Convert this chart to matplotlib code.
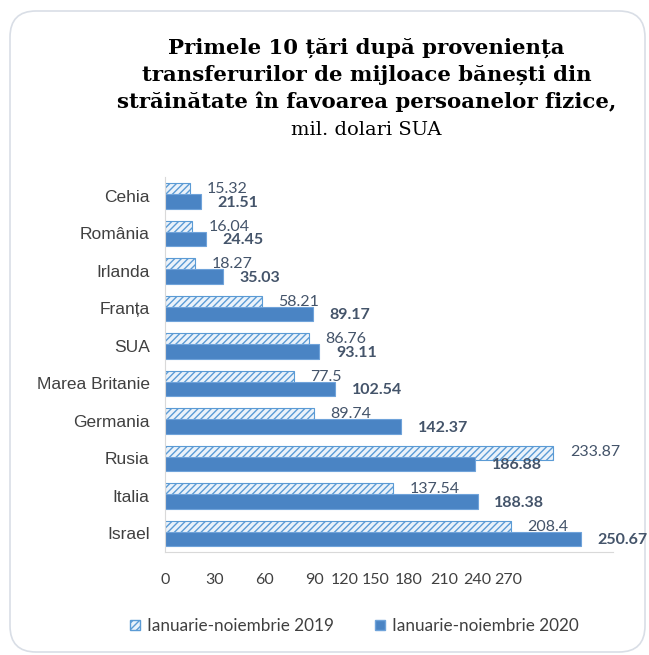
import numpy as np
import matplotlib

matplotlib.use("Agg")
import matplotlib.pyplot as plt
from matplotlib.patches import FancyBboxPatch, Patch

CATEGORIES = ["Cehia", "România", "Irlanda", "Franța", "SUA", "Marea Britanie",
              "Germania", "Rusia", "Italia", "Israel"]
V2019 = [15.32, 16.04, 18.27, 58.21, 86.76, 77.5, 89.74, 233.87, 137.54, 208.4]
V2020 = [21.51, 24.45, 35.03, 89.17, 93.11, 102.54, 142.37, 186.88, 188.38, 250.67]
LABEL_2019 = ["15.32", "16.04", "18.27", "58.21", "86.76", "77.5", "89.74",
              "233.87", "137.54", "208.4"]
LABEL_2020 = ["21.51", "24.45", "35.03", "89.17", "93.11", "102.54", "142.37",
              "186.88", "188.38", "250.67"]
SERIES = ["Ianuarie-noiembrie 2019", "Ianuarie-noiembrie 2020"]
TICK_LABELS = ["0", "30", "60", "90", "120", "150", "180", "210", "240", "270"]
# where the source chart actually drew its tick labels (they drift after 90)
TICK_POS = [0, 30, 60, 90, 108, 127, 147, 168, 188, 207]

TEXT = "#404040"
VAL = "#44546A"
BLUE = "#4A84C4"
LIGHT = "#5B9BD5"

fig = plt.figure(figsize=(6.49, 6.55), dpi=100)

frame = FancyBboxPatch((10 / 649, 3 / 655), 635 / 649, 641 / 655,
                       boxstyle="round,pad=0,rounding_size=0.04",
                       transform=fig.transFigure, facecolor="white",
                       edgecolor="#D9DEE6", linewidth=1.2, zorder=-5)
fig.patches.append(frame)

fig.text(0.565, 1 - 75 / 655,
         "Primele 10 țări după proveniența\n"
         "transferurilor de mijloace bănești din\n"
         "străinătate în favoarea persoanelor fizice,",
         ha="center", va="center", fontsize=15.3, fontweight="bold",
         family="DejaVu Serif", linespacing=1.42, color="black")
fig.text(0.565, 1 - 130 / 655, "mil. dolari SUA", ha="center", va="center",
         fontsize=14, family="DejaVu Serif", color="black")

ax = fig.add_axes([165 / 649, 1 - 552 / 655, 448 / 649, 375 / 655])
y = np.arange(len(CATEGORIES))
h = 0.38
off = 0.15
ax.barh(y - off, V2019, height=h, facecolor="#EAF2FA", edgecolor=LIGHT,
        hatch="/////", linewidth=0.8)
ax.barh(y + off, V2020, height=h, facecolor=BLUE, edgecolor="#6FA3DA",
        linewidth=0.8)

for yi, v, s in zip(y, V2019, LABEL_2019):
    ax.annotate(s, (v, yi - off - 0.02), xytext=(12, 0), textcoords="offset points",
                ha="left", va="center", fontsize=11.5, family="Lato", color=VAL)
for yi, v, s in zip(y, V2020, LABEL_2020):
    ax.annotate(s, (v, yi + off + 0.04), xytext=(12, 0), textcoords="offset points",
                ha="left", va="center", fontsize=11.5, family="Lato",
                fontweight="bold", color=VAL)

ax.set_xlim(0, 270)
ax.set_ylim(len(CATEGORIES) - 0.5, -0.5)
ax.set_yticks(y)
ax.set_yticklabels(CATEGORIES, fontsize=12.5, family="Liberation Sans", color=TEXT)
ax.set_xticks(TICK_POS)
ax.set_xticklabels(TICK_LABELS, fontsize=11.5, family="Lato", color=TEXT)
ax.tick_params(axis="both", length=0)
ax.tick_params(axis="x", pad=15)
ax.tick_params(axis="y", pad=11)
for side in ["top", "right"]:
    ax.spines[side].set_visible(False)
ax.spines["left"].set_color("#D9D9D9")
ax.spines["bottom"].set_color("#D9D9D9")

handles = [Patch(facecolor="#EAF2FA", edgecolor=LIGHT, hatch="/////"),
           Patch(facecolor=BLUE, edgecolor="#6FA3DA")]
fig.legend(handles, SERIES, loc="center", bbox_to_anchor=(354 / 649, 1 - 626 / 655),
           ncol=2, frameon=False, handlelength=0.6, handleheight=0.6,
           handletextpad=0.4, columnspacing=2.4,
           prop={"family": "Lato", "size": 12.3}, labelcolor=TEXT)

fig.savefig("out.png", dpi=100)
